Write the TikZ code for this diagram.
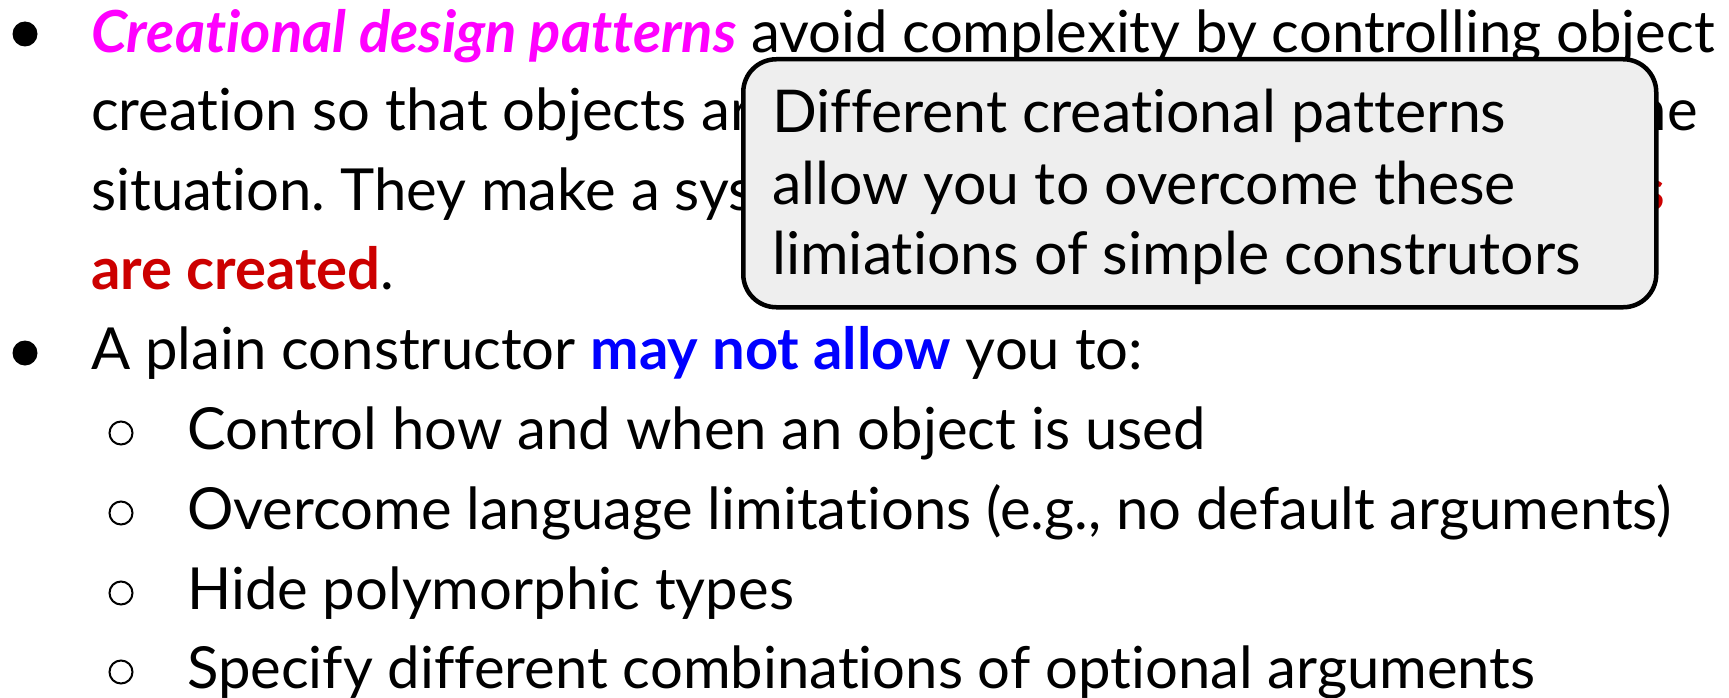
\documentclass[tikz,border=0pt]{standalone}
\usepackage{fontspec}
\setmainfont{Lato}[Ligatures={NoCommon}]
\usetikzlibrary{positioning}
\frenchspacing

\definecolor{hotpink}{HTML}{FF00FF}
\definecolor{darkred}{HTML}{CC0000}
\definecolor{brightblue}{HTML}{0000FF}
\definecolor{notegray}{HTML}{EEEEEE}

\tikzset{
  txt/.style={anchor=base west, inner sep=0pt, font=\fontsize{58}{70}\selectfont},
  notetxt/.style={txt, font=\fontsize{59}{70}\selectfont},
  dot/.style={circle, fill, inner sep=0pt, minimum size=25pt},
  ring/.style={circle, draw, line width=2pt, inner sep=0pt, minimum size=23pt},
  note/.style={draw, fill=notegray, line width=4.5pt, rounded corners=33pt,
    anchor=north west, inner sep=0pt}
}

\begin{document}
\begin{tikzpicture}[x=1pt, y=-1pt]
        \useasboundingbox (0,0) rectangle (1729,698);
        % first bullet
        \node[dot] (b1) at (25,34) {};
        \node[txt] (l1) at (91,53) {{\color{hotpink}\bfseries\itshape Creational design patterns} avoid complexity by controlling object};
        \node[txt] (l2) at (91,131) {creation so that objects are};
        \node[txt, anchor=base east] (l2r) at (1698,131) {the};
        \node[txt] (l3) at (91,210) {situation. They make a system};
        \node[txt, anchor=base east] (l3r) at (1665,210) {\color{darkred}\bfseries objects};
        \node[txt] (l4) at (91,289) {{\color{darkred}\bfseries are created}.};
        % second bullet
        \node[dot] (b2) at (25,353) {};
        \node[txt] (l5) at (91,369) {A plain constructor {\color{brightblue}\bfseries may not allow} you to:};
        \foreach \y/\s [count=\i] in {449/Control how and when an object is used,
                                  529/{Overcome language limitations (e.g., no default arguments)},
                                  609/Hide polymorphic types,
                                  688/Specify different combinations of optional arguments}
        {
          \node[ring] (r\i) at (121,\y-16) {};
          \node[txt] (s\i) at (187,\y) {\s};
        }
        % callout
        \node[note, minimum width=913pt, minimum height=248pt] (box) at (741,57) {};
        \foreach \y/\s [count=\i] in {132/Different creational patterns,
                                  204/allow you to overcome these,
                                  274/limiations of simple construtors}
          \node[notetxt] (n\i) at (772,\y) {\s};
\end{tikzpicture}
\end{document}
